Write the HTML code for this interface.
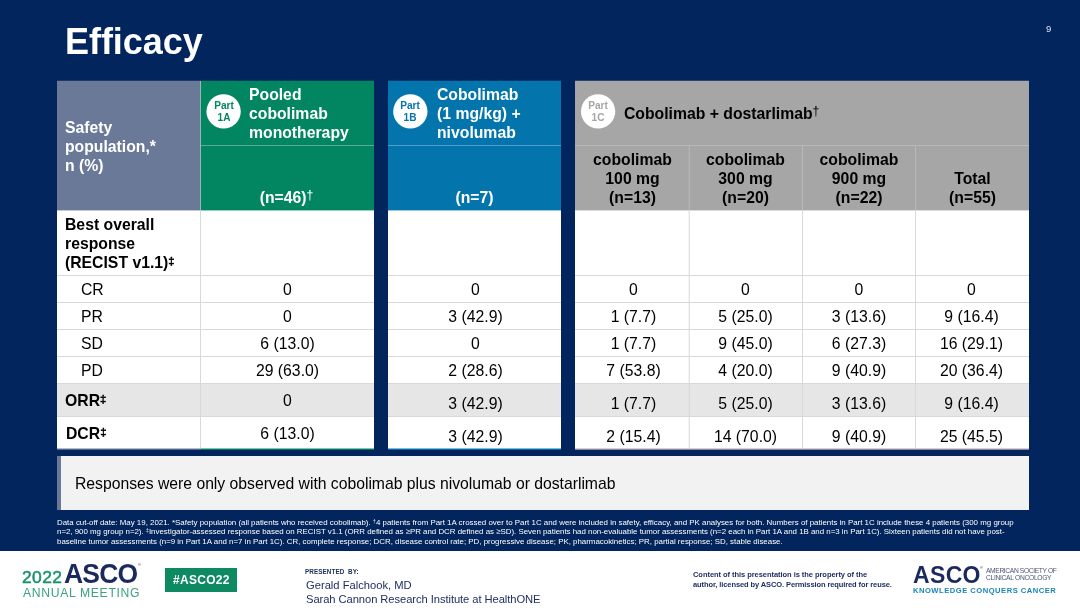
<!DOCTYPE html>
<html>
<head>
<meta charset="utf-8">
<title>Efficacy</title>
<style>
  html, body { margin: 0; padding: 0; }
  body {
    width: 1080px; height: 608px; overflow: hidden; position: relative;
    background: #01255c;
    font-family: "Liberation Sans", sans-serif;
    color: #000;
  }
  .a { position: absolute; box-sizing: border-box; }
  .t { position: absolute; white-space: nowrap; line-height: 1; will-change: transform; }
  .b { font-weight: bold; }
  .c { text-align: center; }
  .w { color: #fff; }
  sup.s { font-size: 72%; vertical-align: baseline; position: relative; top: -0.32em; line-height: 0; }
  sup.d { -webkit-text-stroke: 0.35px currentColor; top: -0.27em; }
  sup.n { font-weight: normal; font-size: 78%; top: -0.30em; }
  .fn { font-size: 7.92px; }
  sup.f { font-size: 70%; vertical-align: baseline; position: relative; top: -0.4em; line-height: 0; }

  /* table blocks */
  .hl { background: #d9d9d9; }                 /* body grid line */
  .num { font-size: 15.75px; text-align: center; }
  .hd { font-size: 15.75px; }
  .lab { font-size: 15.75px; }

  /* circles */
  .ci { position: absolute; width: 34px; top: 100px; font-weight: bold; font-size: 10.1px; line-height: 12px; text-align: center; will-change: transform; }
</style>
</head>
<body>

<!-- ===== Title ===== -->
<div class="t b w" id="title" style="left:65.4px; top:24px; font-size:36px; letter-spacing:-0.05px;">Efficacy</div>
<div class="t" id="pgnum" style="left:1045.7px; top:24px; font-size:9.5px; color:#dfe4ee;">9</div>

<!-- ===== Column 0 (labels) ===== -->
<div class="a" style="left:57px; top:81px; width:144px; height:129px; background:#6a7998;"></div>
<div class="a" style="left:57px; top:210px; width:144px; height:239px; background:#fff;"></div>

<!-- ===== Column 1 (green) ===== -->
<div class="a" style="left:201px; top:81px; width:173px; height:129px; background:#028662;"></div>
<div class="a" style="left:201px; top:210px; width:173px; height:239px; background:#fff;"></div>

<!-- ===== Column 2 (blue) ===== -->
<div class="a" style="left:388px; top:81px; width:173px; height:129px; background:#0475ac;"></div>
<div class="a" style="left:388px; top:210px; width:173px; height:239px; background:#fff;"></div>

<!-- ===== Column 3 (grey group) ===== -->
<div class="a" style="left:575px; top:81px; width:454px; height:129px; background:#a6a6a6;"></div>
<div class="a" style="left:575px; top:210px; width:454px; height:239px; background:#fff;"></div>

<!-- ORR shaded row -->
<div class="a" style="left:57px; top:383px; width:317px; height:34px; background:#e7e6e6;"></div>
<div class="a" style="left:388px; top:383px; width:173px; height:34px; background:#e7e6e6;"></div>
<div class="a" style="left:575px; top:383px; width:454px; height:34px; background:#e7e6e6;"></div>

<!-- header separators -->
<div class="a" style="left:201px; top:145px; width:173px; height:1px; background:#58ad94;"></div>
<div class="a" style="left:388px; top:145px; width:173px; height:1px; background:#519fc7;"></div>
<div class="a" style="left:575px; top:145px; width:454px; height:1px; background:#b8b8b8;"></div>
<div class="a" style="left:200px; top:81px; width:1px; height:129px; background:#93bcb0;"></div>
<div class="a" style="left:688px; top:146px; width:1px; height:64px; background:#ababab;"></div>
<div class="a" style="left:689px; top:146px; width:1px; height:64px; background:#b3b3b3;"></div>
<div class="a" style="left:802px; top:146px; width:1px; height:64px; background:#b8b8b8;"></div>
<div class="a" style="left:915px; top:146px; width:1px; height:64px; background:#b8b8b8;"></div>

<!-- body horizontal grid lines -->
<div class="a hl" style="left:200px; top:210px; width:1px; height:239px;"></div>
<div class="a" style="left:688px; top:210px; width:1px; height:238px; background:#f3f3f3;"></div>
<div class="a" style="left:689px; top:210px; width:1px; height:238px; background:#e4e4e4;"></div>
<div class="a" style="left:688px; top:384px; width:1px; height:32px; background:#e3e2e2;"></div>
<div class="a" style="left:689px; top:384px; width:1px; height:32px; background:#dcdbdb;"></div>
<div class="a hl" style="left:802px; top:210px; width:1px; height:239px;"></div>
<div class="a hl" style="left:915px; top:210px; width:1px; height:239px;"></div>
<div class="a hl" style="left:57px; top:275px; width:317px; height:1px;"></div>
<div class="a hl" style="left:388px; top:275px; width:173px; height:1px;"></div>
<div class="a hl" style="left:575px; top:275px; width:454px; height:1px;"></div>
<div class="a hl" style="left:57px; top:302px; width:317px; height:1px;"></div>
<div class="a hl" style="left:388px; top:302px; width:173px; height:1px;"></div>
<div class="a hl" style="left:575px; top:302px; width:454px; height:1px;"></div>
<div class="a hl" style="left:57px; top:329px; width:317px; height:1px;"></div>
<div class="a hl" style="left:388px; top:329px; width:173px; height:1px;"></div>
<div class="a hl" style="left:575px; top:329px; width:454px; height:1px;"></div>
<div class="a hl" style="left:57px; top:356px; width:317px; height:1px;"></div>
<div class="a hl" style="left:388px; top:356px; width:173px; height:1px;"></div>
<div class="a hl" style="left:575px; top:356px; width:454px; height:1px;"></div>
<div class="a hl" style="left:57px; top:383px; width:317px; height:1px;"></div>
<div class="a hl" style="left:388px; top:383px; width:173px; height:1px;"></div>
<div class="a hl" style="left:575px; top:383px; width:454px; height:1px;"></div>
<div class="a hl" style="left:57px; top:416px; width:317px; height:1px;"></div>
<div class="a hl" style="left:388px; top:416px; width:173px; height:1px;"></div>
<div class="a hl" style="left:575px; top:416px; width:454px; height:1px;"></div>

<!-- sub-pixel edge blending rows (header bottom ~210.4, header top ~80.75) -->
<div class="a" style="left:57px; top:210px; width:144px; height:1px; background:#c3c9d6;"></div>
<div class="a" style="left:201px; top:210px; width:173px; height:1px; background:#9acfc0;"></div>
<div class="a" style="left:388px; top:210px; width:173px; height:1px; background:#9bc8de;"></div>
<div class="a" style="left:575px; top:210px; width:454px; height:1px; background:#dbdbdb;"></div>
<div class="a" style="left:57px; top:80px; width:144px; height:1px; background:#1b3a6b;"></div>
<div class="a" style="left:201px; top:80px; width:173px; height:1px; background:#013d5e;"></div>
<div class="a" style="left:388px; top:80px; width:173px; height:1px; background:#023970;"></div>
<div class="a" style="left:575px; top:80px; width:454px; height:1px; background:#2a456f;"></div>

<!-- ===== Header text ===== -->
<div class="t b w hd" id="h0" style="left:65px; top:118px; line-height:19px;">Safety<br>population,*<br>n (%)</div>

<svg class="a" id="c1" style="left:203px; top:90px;" width="40" height="44" viewBox="0 0 40 44"><circle cx="20.60" cy="21.45" r="17.15" fill="#fff"/></svg><div class="ci" style="left:206.60px; color:#028662;">Part<br>1A</div>
<div class="t b w hd" id="h1" style="left:249px; top:85px; line-height:19px;">Pooled<br>cobolimab<br>monotherapy</div>
<div class="t b w hd c" id="n1" style="left:200.4px; width:173px; top:190px;">(n=46)<sup class="s n">&dagger;</sup></div>

<svg class="a" id="c2" style="left:390px; top:90px;" width="40" height="44" viewBox="0 0 40 44"><circle cx="20.35" cy="21.45" r="17.15" fill="#fff"/></svg><div class="ci" style="left:393.35px; color:#0475ac;">Part<br>1B</div>
<div class="t b w hd" id="h2" style="left:436.5px; top:85px; line-height:19px;">Cobolimab<br>(1 mg/kg) +<br>nivolumab</div>
<div class="t b w hd c" id="n2" style="left:388px; width:173px; top:190px;">(n=7)</div>

<svg class="a" id="c3" style="left:578px; top:90px;" width="40" height="44" viewBox="0 0 40 44"><circle cx="20.10" cy="21.45" r="17.15" fill="#fff"/></svg><div class="ci" style="left:581.10px; color:#a6a6a6;">Part<br>1C</div>
<div class="t b hd" id="h3" style="left:624px; top:106px;">Cobolimab + dostarlimab<sup class="s n">&dagger;</sup></div>

<div class="t b hd c" id="g1" style="left:576px; width:113px; top:150px; line-height:19px;">cobolimab<br>100 mg<br>(n=13)</div>
<div class="t b hd c" id="g2" style="left:689px; width:113px; top:150px; line-height:19px;">cobolimab<br>300 mg<br>(n=20)</div>
<div class="t b hd c" id="g3" style="left:803px; width:112px; top:150px; line-height:19px;">cobolimab<br>900 mg<br>(n=22)</div>
<div class="t b hd c" id="g4" style="left:916px; width:113px; top:169px; line-height:19px;">Total<br>(n=55)</div>

<!-- ===== Body labels ===== -->
<div class="t b hd" id="r0" style="left:65px; top:215px; line-height:19px;">Best overall<br>response<br>(RECIST v1.1)<sup class="s d">&Dagger;</sup></div>
<div class="t lab" id="l1" style="left:81px; top:282px;">CR</div>
<div class="t lab" id="l2" style="left:81px; top:309px;">PR</div>
<div class="t lab" id="l3" style="left:81px; top:336px;">SD</div>
<div class="t lab" id="l4" style="left:81px; top:363px;">PD</div>
<div class="t b hd" id="l5" style="left:65px; top:393px;">ORR<sup class="s d">&Dagger;</sup></div>
<div class="t b hd" id="l6" style="left:66px; top:426px;">DCR<sup class="s d">&Dagger;</sup></div>

<!-- ===== Body values ===== -->
<div class="t num" id="v00" style="left:201px; width:173px; top:282px;">0</div>
<div class="t num" id="v01" style="left:389px; width:173px; top:282px;">0</div>
<div class="t num" id="v02" style="left:576.5px; width:113px; top:282px;">0</div>
<div class="t num" id="v03" style="left:689px; width:113px; top:282px;">0</div>
<div class="t num" id="v04" style="left:803px; width:112px; top:282px;">0</div>
<div class="t num" id="v05" style="left:915.2px; width:113px; top:282px;">0</div>
<div class="t num" id="v10" style="left:201px; width:173px; top:309px;">0</div>
<div class="t num" id="v11" style="left:389px; width:173px; top:309px;">3 (42.9)</div>
<div class="t num" id="v12" style="left:576.5px; width:113px; top:309px;">1 (7.7)</div>
<div class="t num" id="v13" style="left:689px; width:113px; top:309px;">5 (25.0)</div>
<div class="t num" id="v14" style="left:803px; width:112px; top:309px;">3 (13.6)</div>
<div class="t num" id="v15" style="left:915.2px; width:113px; top:309px;">9 (16.4)</div>
<div class="t num" id="v20" style="left:201px; width:173px; top:336px;">6 (13.0)</div>
<div class="t num" id="v21" style="left:389px; width:173px; top:336px;">0</div>
<div class="t num" id="v22" style="left:576.5px; width:113px; top:336px;">1 (7.7)</div>
<div class="t num" id="v23" style="left:689px; width:113px; top:336px;">9 (45.0)</div>
<div class="t num" id="v24" style="left:803px; width:112px; top:336px;">6 (27.3)</div>
<div class="t num" id="v25" style="left:915.2px; width:113px; top:336px;">16 (29.1)</div>
<div class="t num" id="v30" style="left:201px; width:173px; top:363px;">29 (63.0)</div>
<div class="t num" id="v31" style="left:389px; width:173px; top:363px;">2 (28.6)</div>
<div class="t num" id="v32" style="left:576.5px; width:113px; top:363px;">7 (53.8)</div>
<div class="t num" id="v33" style="left:689px; width:113px; top:363px;">4 (20.0)</div>
<div class="t num" id="v34" style="left:803px; width:112px; top:363px;">9 (40.9)</div>
<div class="t num" id="v35" style="left:915.2px; width:113px; top:363px;">20 (36.4)</div>
<div class="t num" id="v40" style="left:201px; width:173px; top:393px;">0</div>
<div class="t num" id="v41" style="left:389px; width:173px; top:396px;">3 (42.9)</div>
<div class="t num" id="v42" style="left:576.5px; width:113px; top:396px;">1 (7.7)</div>
<div class="t num" id="v43" style="left:689px; width:113px; top:396px;">5 (25.0)</div>
<div class="t num" id="v44" style="left:803px; width:112px; top:396px;">3 (13.6)</div>
<div class="t num" id="v45" style="left:915.2px; width:113px; top:396px;">9 (16.4)</div>
<div class="t num" id="v50" style="left:201px; width:173px; top:426px;">6 (13.0)</div>
<div class="t num" id="v51" style="left:389px; width:173px; top:429px;">3 (42.9)</div>
<div class="t num" id="v52" style="left:576.5px; width:113px; top:429px;">2 (15.4)</div>
<div class="t num" id="v53" style="left:689px; width:113px; top:429px;">14 (70.0)</div>
<div class="t num" id="v54" style="left:803px; width:112px; top:429px;">9 (40.9)</div>
<div class="t num" id="v55" style="left:915.2px; width:113px; top:429px;">25 (45.5)</div>

<!-- bottom accent borders (two rows to mimic a ~1.4px line straddling pixels) -->
<div class="a" style="left:57px; top:448px; width:144px; height:1px; background:#b4bbcd;"></div>
<div class="a" style="left:57px; top:449px; width:144px; height:1px; background:#53668d;"></div>
<div class="a" style="left:201px; top:448px; width:173px; height:1px; background:#81c3b1;"></div>
<div class="a" style="left:201px; top:449px; width:173px; height:1px; background:#027861;"></div>
<div class="a" style="left:388px; top:448px; width:173px; height:1px; background:#82bad6;"></div>
<div class="a" style="left:388px; top:449px; width:173px; height:1px; background:#0469a0;"></div>
<div class="a" style="left:575px; top:448px; width:454px; height:1px; background:#d3d3d3;"></div>
<div class="a" style="left:575px; top:449px; width:454px; height:1px; background:#858c97;"></div>

<!-- ===== Callout ===== -->
<div class="a" style="left:57px; top:456px; width:972px; height:54px; background:#f2f2f2; border-left:4px solid #6a7998;"></div>
<div class="t" id="callout" style="left:75.3px; top:476px; font-size:15.75px; letter-spacing:-0.02px;">Responses were only observed with cobolimab plus nivolumab or dostarlimab</div>

<!-- ===== Footnotes ===== -->
<div class="t w fn" id="f1" style="left:57px; top:519px;">Data cut-off date: May 19, 2021. *Safety population (all patients who received cobolimab). <sup class="f">&dagger;</sup>4 patients from Part 1A crossed over to Part 1C and were included in safety, efficacy, and PK analyses for both. Numbers of patients in Part 1C include these 4 patients (300 mg group</div>
<div class="t w fn" id="f2" style="left:57px; top:528px; letter-spacing:-0.016px;">n=2, 900 mg group n=2). <sup class="f">&Dagger;</sup>Investigator-assessed response based on RECIST v1.1 (ORR defined as &ge;PR and DCR defined as &ge;SD). Seven patients had non-evaluable tumor assessments (n=2 each in Part 1A and 1B and n=3 in Part 1C). Sixteen patients did not have post-</div>
<div class="t w fn" id="f3" style="left:57px; top:538px; letter-spacing:-0.008px;">baseline tumor assessments (n=9 in Part 1A and n=7 in Part 1C). CR, complete response; DCR, disease control rate; PD, progressive disease; PK, pharmacokinetics; PR, partial response; SD, stable disease.</div>

<!-- ===== Footer ===== -->
<div class="a" style="left:0; top:551px; width:1080px; height:57px; background:#fff;"></div>

<!-- 2022 ASCO Annual Meeting logo -->
<div class="t" id="lg1" style="left:22.3px; top:569px; font-size:17.4px; color:#17936b; letter-spacing:0.45px; -webkit-text-stroke:0.5px #17936b;">2022</div>
<div class="t b" id="lg2" style="left:64.3px; top:561px; font-size:26.5px; color:#1b2a5e; letter-spacing:-0.8px; transform:scaleY(1.07); transform-origin:0 84.65%;">ASCO</div>
<div class="t" id="lg2r" style="left:138px; top:563px; font-size:4px; color:#1b2a5e;">&reg;</div>
<div class="t" id="lg3" style="left:23px; top:587px; font-size:12.2px; color:#3aa27f; letter-spacing:0.66px;">ANNUAL MEETING</div>

<!-- hashtag -->
<div class="a" style="left:165px; top:567.5px; width:72px; height:24.5px; background:#0e8a62;"></div>
<div class="t b w" id="hash" style="left:173px; top:574px; font-size:12px; letter-spacing:0.3px;">#ASCO22</div>

<!-- presenter -->
<div class="t b" id="pb" style="left:305px; top:569px; font-size:6.3px; color:#1f2f63; letter-spacing:0.1px;">PRESENTED&nbsp; BY:</div>
<div class="t" id="pn1" style="left:305.5px; top:580px; font-size:11.2px; color:#1f2f63;">Gerald Falchook, MD</div>
<div class="t" id="pn2" style="left:305.5px; top:594px; font-size:11.2px; letter-spacing:-0.07px; color:#1f2f63;">Sarah Cannon Research Institute at HealthONE</div>

<!-- content notice -->
<div class="t b" id="cn1" style="left:693px; top:571px; font-size:7.5px; letter-spacing:-0.05px; color:#1f2f63;">Content of this presentation is the property of the</div>
<div class="t b" id="cn2" style="left:693px; top:581px; font-size:7.5px; letter-spacing:-0.1px; color:#1f2f63;">author, licensed by ASCO. Permission required for reuse.</div>

<!-- ASCO right logo -->
<div class="t b" id="rl1" style="left:912.6px; top:564px; font-size:23px; color:#1b2a5e; letter-spacing:0.35px;">ASCO</div>
<div class="t" id="rl1r" style="left:980px; top:566px; font-size:4px; color:#1b2a5e;">&reg;</div>
<div class="t" id="rl2" style="left:986.3px; top:568px; font-size:6.7px; color:#4a5575; letter-spacing:-0.37px;">AMERICAN SOCIETY OF</div>
<div class="t" id="rl3" style="left:986.3px; top:575px; font-size:6.7px; color:#4a5575; letter-spacing:-0.3px;">CLINICAL ONCOLOGY</div>
<div class="t b" id="rl4" style="left:913px; top:587px; font-size:7.6px; color:#1a86b6; letter-spacing:0.5px;">KNOWLEDGE CONQUERS CANCER</div>

</body>
</html>
